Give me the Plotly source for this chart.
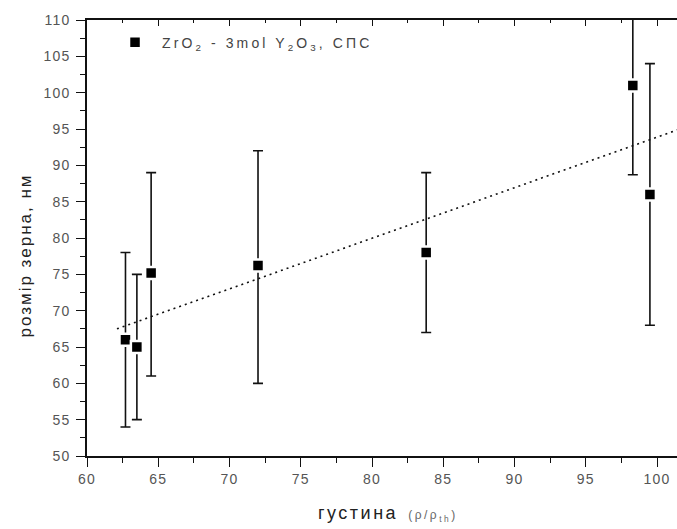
import plotly.graph_objects as go

# Measured grain size vs. relative density
density = [62.7, 63.5, 64.5, 72.0, 83.8, 98.3, 99.5]
grain_size = [66.0, 65.0, 75.2, 76.2, 78.0, 101.0, 86.0]
err_upper = [12.0, 10.0, 13.8, 15.8, 11.0, 14.0, 18.0]
err_lower = [12.0, 10.0, 14.2, 16.2, 11.0, 12.3, 18.0]

# Linear trend line end points
trend_x = [62.1, 101.6]
trend_y = [67.5, 95.0]

x_ticks = [60, 65, 70, 75, 80, 85, 90, 95, 100]
y_ticks = [50, 55, 60, 65, 70, 75, 80, 85, 90, 95, 100, 105, 110]

X_RANGE = [60, 101.4]
Y_RANGE = [50, 110]
FONT = "Liberation Sans, Arial, sans-serif"


def spaced(text, px):
    """Wrap text in a span with extra letter spacing."""
    return f"<span style='letter-spacing:{px}px'>{text}</span>"


fig = go.Figure()

fig.add_trace(go.Scatter(
    x=trend_x, y=trend_y, mode="lines",
    line=dict(color="#111111", width=1.6, dash="2px,4px"),
    showlegend=False, hoverinfo="skip",
))

fig.add_trace(go.Scatter(
    x=density, y=grain_size, mode="markers",
    name=spaced("\u00a0ZrO<sub>2</sub> - 3mol Y<sub>2</sub>O<sub>3</sub>, СПС", 3.1),
    marker=dict(symbol="square", size=12, color="black",
                line=dict(color="white", width=2.5)),
    error_y=dict(type="data", symmetric=False, array=err_upper,
                 arrayminus=err_lower, color="#111111", thickness=1.6, width=5),
))

# top frame axis with inward ticks
fig.add_trace(go.Scatter(x=[None], y=[None], xaxis="x2", showlegend=False))

axis_font = dict(family=FONT, size=14, color="#555555")

fig.update_layout(
    width=677, height=529,
    margin=dict(l=87, r=0, t=20, b=73),
    paper_bgcolor="white", plot_bgcolor="white",
    font=dict(family=FONT, color="#333333"),
    xaxis=dict(
        range=X_RANGE, tickvals=x_ticks,
        ticktext=[spaced(str(v), 1.2) for v in x_ticks],
        ticks="outside", ticklen=9, tickwidth=1.3, tickcolor="#111111",
        minor=dict(dtick=2.5, tick0=60, ticks="outside", ticklen=5,
                   tickwidth=1.3, tickcolor="#111111"),
        showline=True, linecolor="#111111", linewidth=1.6,
        showgrid=False, zeroline=False, tickfont=axis_font,
    ),
    xaxis2=dict(
        range=X_RANGE, overlaying="x", side="top", tickvals=x_ticks,
        ticks="inside", ticklen=6, tickwidth=1.3, tickcolor="#111111",
        minor=dict(dtick=2.5, tick0=60, ticks="inside", ticklen=3,
                   tickwidth=1.3, tickcolor="#111111"),
        showticklabels=False, showline=True, linecolor="#111111",
        linewidth=1.6, showgrid=False, zeroline=False,
    ),
    yaxis=dict(
        range=Y_RANGE, tickvals=y_ticks,
        ticktext=[spaced(str(v), 1.2) for v in y_ticks],
        ticks="outside", ticklen=9, tickwidth=1.3, tickcolor="#111111",
        minor=dict(dtick=2.5, tick0=50, ticks="outside", ticklen=5,
                   tickwidth=1.3, tickcolor="#111111"),
        ticklabelstandoff=3,
        showline=True, linecolor="#111111", linewidth=1.6,
        showgrid=False, zeroline=False, tickfont=axis_font,
    ),
    legend=dict(x=0.0475, y=0.985, xanchor="left", yanchor="top",
                bgcolor="rgba(0,0,0,0)",
                font=dict(family=FONT, size=14, color="#444444")),
    annotations=[
        dict(
            text=spaced("розмір зерна, нм", 2.0), textangle=-90,
            xref="paper", yref="paper",
            x=-(87 - 26) / 590, y=(455 - 255) / 435,
            xanchor="center", yanchor="middle", showarrow=False,
            font=dict(family=FONT, size=17, color="#222222"),
        ),
        dict(
            text=spaced("густина", 2.5) + "  "
            + "<span style='font-size:12px;letter-spacing:2.5px;color:#666666'>(ρ/ρ<sub>th</sub>)</span>",
            xref="paper", yref="paper",
            x=(388 - 87) / 590, y=-(512 - 455) / 435,
            xanchor="center", yanchor="middle", showarrow=False,
            font=dict(family=FONT, size=18, color="#222222"),
        ),
    ],
)

fig.write_html("out.html")
